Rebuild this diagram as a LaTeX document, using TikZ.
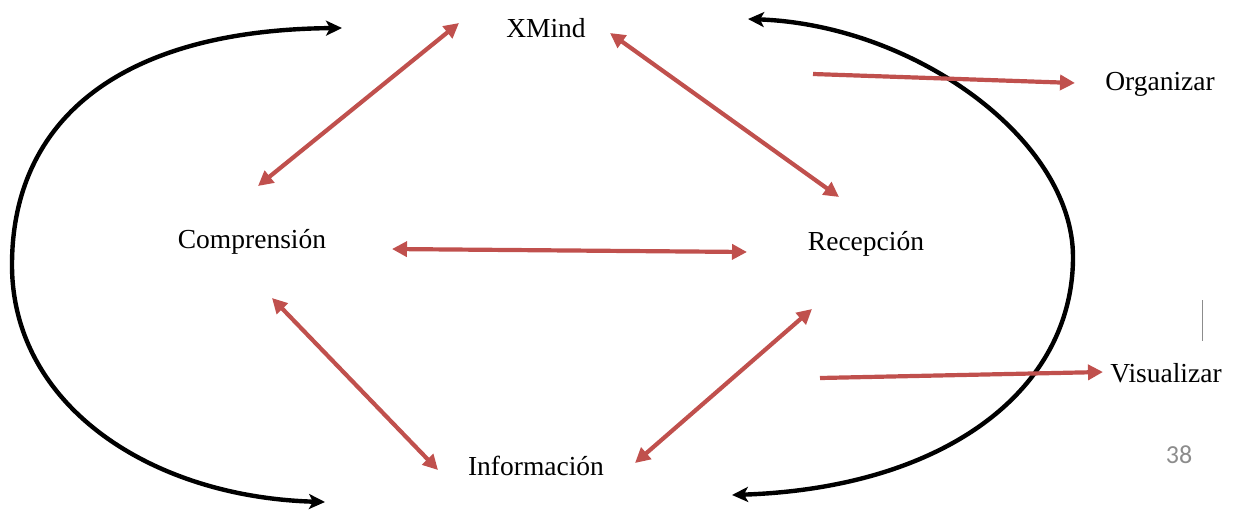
\documentclass[tikz,border=0pt]{standalone}
\usepackage{fontspec}
\setmainfont{Liberation Serif}
\newfontfamily\numfont{Carlito}
\usetikzlibrary{arrows.meta,calc}
\definecolor{accred}{HTML}{C0504D}
\definecolor{pagegray}{HTML}{8C8C8C}
\tikzset{
  lbl/.style={anchor=base, inner sep=0pt, font=\fontsize{27.5}{32}\selectfont},
  redarr/.style={draw=accred, line width=4.2pt, {Triangle[length=15pt,width=15pt]}-{Triangle[length=15pt,width=15pt]}},
  redone/.style={draw=accred, line width=4.2pt, -{Triangle[length=15pt,width=15pt]}},
  blackarr/.style={draw=black, line width=4.4pt, {Stealth[length=16pt,width=15pt,inset=4pt]}-{Stealth[length=16pt,width=15pt,inset=4pt]}}
}
\begin{document}
\begin{tikzpicture}[x=1pt,y=-1pt]
\useasboundingbox (0,0) rectangle (1240,509);
% labels
\node[lbl] (xmind) at (546,37) {XMind};
\node[lbl] (comp) at (252,248) {Comprensión};
\node[lbl] (recep) at (866,250) {Recepción};
\node[lbl] (info) at (536,475) {Información};
\node[lbl] (org) at (1160,90) {Organizar};
\node[lbl] (vis) at (1166,382) {Visualizar};
\node[anchor=base, inner sep=0pt, font=\numfont\fontsize{26}{30}\selectfont, text=pagegray] (page) at (1179,463) {38};
% free ends
\coordinate (ltop) at (342,28);
\coordinate (lbot) at (325,502);
\coordinate (rtop) at (748,19);
\coordinate (rbot) at (732,495);
\coordinate (orgsrc) at (813,74);
\coordinate (vissrc) at (820,378);
\coordinate (barT) at (1202,300);
\coordinate (barB) at (1202,341);
% black cycle arrows
\draw[blackarr] (ltop) .. controls (120,30) and (12,120) .. (12,265) .. controls (12,405) and (150,497) .. (lbot);
\draw[blackarr] (rtop) .. controls (915,25) and (1073,140) .. (1073,257) .. controls (1073,390) and (945,488) .. (rbot);
% red arrows
\draw[redarr] ($(comp.base)+(6,-62)$) -- ($(xmind.base)+(-87,-14)$);
\draw[redarr] ($(xmind.base)+(64,-4)$) -- ($(recep.base)+(-27,-53)$);
\draw[redarr] ($(comp.base)+(140,1)$) -- ($(recep.base)+(-119,2)$);
\draw[redarr] ($(comp.base)+(20,50)$) -- ($(info.base)+(-98,-5)$);
\draw[redarr] ($(info.base)+(99,-12)$) -- ($(recep.base)+(-54,59)$);
\draw[redone] (orgsrc) -- ($(org.base)+(-85,-7)$);
\draw[redone] (vissrc) -- ($(vis.base)+(-63,-10)$);
% page bar
\draw[pagegray, line width=1pt] (barT) -- (barB);
\end{tikzpicture}
\end{document}
